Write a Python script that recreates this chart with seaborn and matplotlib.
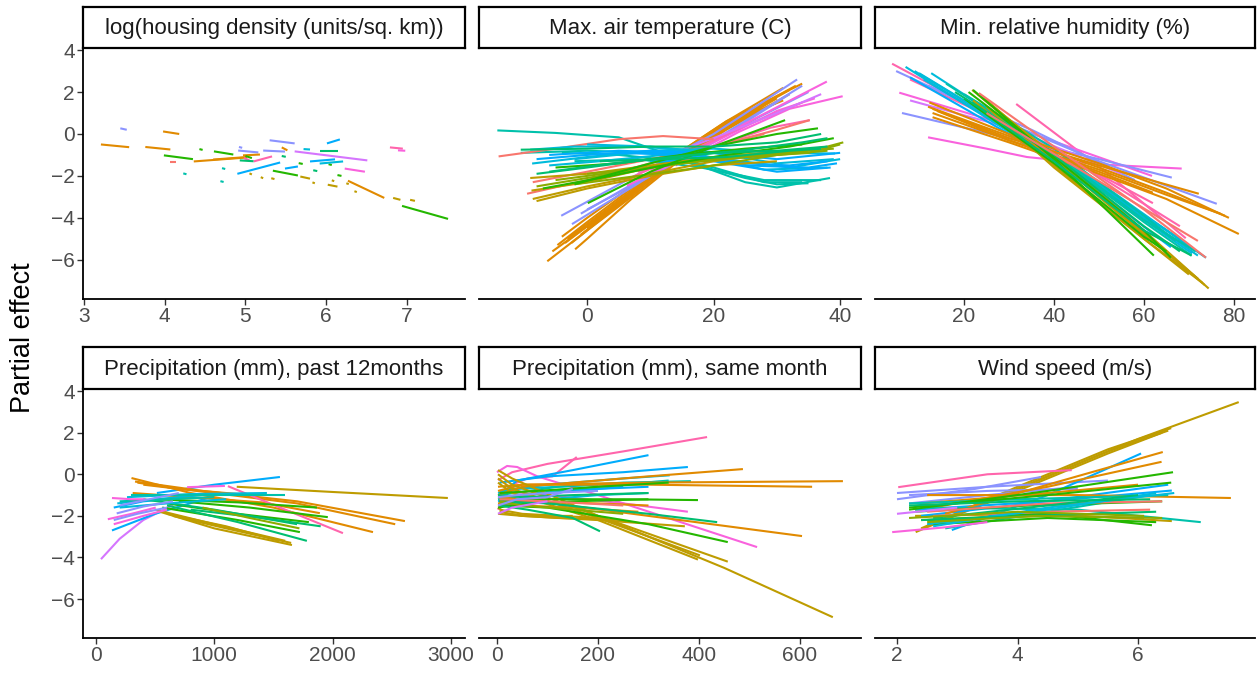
import numpy as np
import pandas as pd
import matplotlib
matplotlib.use("Agg")
import matplotlib.pyplot as plt
import seaborn as sns

# ---------------- data ----------------
panel_titles = ["log(housing density (units/sq. km))", "Max. air temperature (C)",
                "Min. relative humidity (%)", "Precipitation (mm), past 12months",
                "Precipitation (mm), same month", "Wind speed (m/s)"]

group_colors = ["#F8766D", "#E18A00", "#BE9C00", "#8CAB00", "#24B700", "#00BE70", "#00C1AB",
                "#00BBDA", "#00ACFC", "#8B93FF", "#D575FE", "#F962DD", "#FF65AC"]

x_ticks = [[3, 4, 5, 6, 7], [0, 20, 40], [20, 40, 60, 80],
           [0, 1000, 2000, 3000], [0, 200, 400, 600], [2, 4, 6]]
x_limits = [(2.988, 7.72), (-17.1, 43.3), (0.2, 84.7),
            (-110, 3120), (-35.6, 720.8), (1.635, 7.94)]
y_ticks = [4, 2, 0, -2, -4, -6]
y_limits = (-7.87, 4.1)

# (group, x values, y values)
housing_lines = [
    (9, [3.45, 3.53], [0.27, 0.20]), (1, [3.98, 4.18], [0.12, 0.0]),
    (1, [3.21, 3.56], [-0.50, -0.63]), (1, [3.76, 4.07], [-0.62, -0.74]),
    (4, [3.99, 4.35], [-1.02, -1.20]), (0, [4.07, 4.14], [-1.36, -1.36]),
    (4, [4.43, 4.47], [-0.72, -0.76]), (4, [4.61, 4.85], [-0.83, -0.98]),
    (1, [4.36, 5.02], [-1.31, -1.12]), (1, [4.60, 5.02], [-1.22, -1.10]),
    (1, [4.97, 5.18], [-1.02, -0.98]), (6, [4.23, 4.27], [-1.88, -1.92]),
    (6, [4.71, 4.75], [-1.63, -1.67]), (6, [4.69, 4.73], [-2.25, -2.29]),
    (8, [4.90, 5.43], [-1.90, -1.36]), (9, [4.91, 5.16], [-0.79, -0.88]),
    (12, [5.10, 5.33], [-1.31, -1.07]), (9, [5.30, 5.61], [-0.30, -0.45]),
    (9, [5.22, 5.49], [-0.79, -0.84]), (1, [5.45, 5.52], [-0.64, -0.78]),
    (4, [5.34, 5.65], [-1.75, -1.98]), (2, [5.05, 5.08], [-1.88, -1.93]),
    (2, [5.19, 5.22], [-2.06, -2.11]), (2, [5.32, 5.36], [-2.11, -2.15]),
    (2, [5.68, 5.80], [-2.03, -2.13]), (2, [5.83, 5.86], [-2.31, -2.35]),
    (2, [6.02, 6.14], [-2.42, -2.51]), (2, [6.07, 6.10], [-2.21, -2.25]),
    (2, [6.25, 6.28], [-2.35, -2.39]), (2, [6.35, 6.38], [-2.73, -2.77]),
    (2, [6.83, 6.92], [-3.05, -3.14]), (2, [7.04, 7.10], [-3.14, -3.19]),
    (1, [6.27, 6.72], [-2.23, -3.05]), (4, [6.94, 7.51], [-3.43, -4.05]),
    (10, [5.61, 6.51], [-0.83, -1.26]), (8, [6.01, 6.17], [-0.45, -0.26]),
    (5, [5.92, 6.15], [-0.83, -0.83]), (8, [5.80, 6.11], [-1.31, -1.21]),
    (7, [5.92, 6.21], [-1.41, -1.31]), (8, [5.49, 5.65], [-1.65, -1.55]),
    (11, [6.23, 6.48], [-1.65, -1.80]), (12, [6.79, 6.95], [-0.64, -0.70]),
    (11, [6.89, 6.98], [-0.78, -0.80]), (5, [5.84, 5.89], [-1.73, -1.77]),
    (4, [6.14, 6.19], [-1.96, -2.00]), (4, [6.03, 6.07], [-1.44, -1.48]),
    (5, [5.45, 5.50], [-1.05, -1.09]), (4, [5.66, 5.71], [-1.39, -1.43]),
    (5, [4.93, 5.10], [-1.26, -1.30]), (4, [5.00, 5.08], [-1.05, -1.15]),
    (7, [5.72, 5.80], [-0.72, -0.74]), (9, [4.92, 4.96], [-0.62, -0.66]),
    (12, [4.98, 5.05], [-1.15, -1.25]),
]

temperature_lines = [
    (1, [-6.3, 0, 7, 14, 22, 32], [-6.07, -4.6, -2.9, -1.2, 0.4, 2.1]),
    (1, [-4.7, 0, 7, 14, 22, 31], [-5.3, -4.2, -2.6, -1.0, 0.6, 2.2]),
    (1, [-3.1, 0, 7, 14, 22, 33], [-5.0, -4.3, -2.7, -1.1, 0.5, 2.3]),
    (1, [-1.9, 0, 7, 14, 22, 30], [-5.5, -5.0, -3.1, -1.4, 0.3, 1.7]),
    (1, [-3.5, 0, 7, 14, 23], [-5.2, -4.4, -2.8, -1.2, 0.7]),
    (1, [-1.0, 7, 14, 22, 31], [-4.8, -2.9, -1.1, 0.5, 1.6]),
    (1, [0, 7, 14, 22, 32], [-4.5, -2.8, -1.3, 0.2, 1.9]),
    (1, [-5.5, 0, 7, 14, 22, 30], [-5.6, -4.4, -2.8, -1.2, 0.3, 1.5]),
    (1, [-2.5, 0, 7, 14, 21, 28], [-5.2, -4.6, -3.0, -1.3, 0.2, 1.2]),
    (1, [-4, 0, 7, 14, 22, 34], [-4.9, -4.0, -2.5, -1.0, 0.6, 2.4]),
    (9, [-4.1, 10, 20, 33.2], [-3.9, -1.6, 0.0, 2.6]),
    (9, [-2.4, 10, 20, 34], [-4.3, -2.0, -0.3, 2.3]),
    (9, [0, 10, 20, 32], [-3.6, -2.0, -0.4, 1.9]),
    (9, [-1, 10, 20, 35], [-3.8, -1.9, -0.3, 2.0]),
    (11, [6.3, 15, 25, 37.9], [-2.47, -1.2, 0.5, 2.5]),
    (11, [14, 24, 32, 40.4], [-1.5, 0.1, 1.2, 1.8]),
    (11, [10, 20, 30, 36], [-1.7, -0.4, 1.1, 1.7]),
    (12, [8, 20, 29, 35.2], [-1.8, -0.6, 0.3, 0.66]),
    (12, [6, 15, 25, 34], [-2.2, -1.0, 0.4, 1.5]),
    (10, [10, 20, 30, 37], [-1.3, -0.2, 1.0, 1.9]),
    (6, [-14.2, -5, 5, 15, 25, 30, 38.4], [0.17, 0.05, -0.16, -1.2, -2.3, -2.55, -2.1]),
    (6, [-4, 5, 15, 25, 30, 35], [-0.9, -1.0, -1.3, -2.1, -2.4, -2.35]),
    (6, [-10.5, 0, 10, 20, 28, 34], [-0.9, -0.8, -0.9, -1.6, -2.3, -2.3]),
    (6, [-2, 8, 18, 28, 37], [-1.3, -1.2, -1.6, -2.2, -2.2]),
    (0, [-14, -5, 5, 12, 20], [-1.07, -0.7, -0.25, -0.1, -0.25]),
    (0, [-9.5, 0, 10, 20, 30, 35.2], [-2.85, -2.2, -1.4, -0.6, 0.2, 0.66]),
    (0, [-8.6, 0, 10, 20, 28], [-2.3, -1.8, -1.2, -0.6, 0.0]),
    (7, [-8.7, 0, 10, 20, 30, 39.2], [-1.41, -1.1, -0.8, -0.7, -0.9, -0.93]),
    (8, [-6, 5, 15, 25, 32, 38], [-1.0, -0.8, -0.9, -1.4, -1.5, -1.3]),
    (7, [0, 10, 20, 30, 39], [-0.5, -0.6, -0.9, -1.4, -1.2]),
    (8, [5, 15, 25, 35, 39.5], [-0.9, -1.0, -1.5, -1.6, -1.4]),
    (7, [-2, 8, 18, 28, 38], [-1.2, -0.9, -1.0, -1.7, -1.6]),
    (8, [10, 20, 30, 38.5], [-1.3, -1.3, -1.8, -1.6]),
    (7, [-9, -2, 8, 18, 26], [-0.75, -0.6, -0.6, -0.8, -1.1]),
    (8, [-8, 0, 10, 20, 30, 40], [-1.2, -1.0, -0.8, -0.9, -1.2, -0.9]),
    (7, [-6, 2, 12, 22, 32, 40], [-1.5, -1.3, -1.0, -1.2, -1.6, -1.2]),
    (2, [-9, 0, 10, 20, 30], [-2.1, -1.9, -1.5, -1.1, -1.0]),
    (2, [-8.6, 0, 10, 20, 30, 35], [-3.1, -2.5, -1.9, -1.3, -0.9, -0.8]),
    (2, [-8.8, 0, 10, 20, 32], [-2.7, -2.3, -1.6, -1.1, -0.8]),
    (2, [-8, 0, 10, 20, 30], [-3.2, -2.6, -2.0, -1.5, -1.3]),
    (3, [-5, 5, 15, 25, 35, 40], [-2.2, -1.8, -1.4, -1.1, -0.9, -0.5]),
    (3, [-2, 8, 18, 28, 38, 40.5], [-2.4, -2.0, -1.6, -1.1, -0.6, -0.4]),
    (3, [0, 10, 20, 30, 38], [-1.9, -1.6, -1.2, -1.0, -0.8]),
    (3, [-8, 0, 10, 20, 30, 39], [-2.5, -2.1, -1.6, -1.2, -0.9, -0.7]),
    (4, [0.1, 10, 20, 31.3], [-3.3, -1.8, -0.6, 0.66]),
    (4, [-2, 10, 20, 30, 36.5], [-2.4, -1.4, -0.6, 0.0, 0.27]),
    (4, [-5, 5, 15, 25, 34], [-1.6, -1.4, -1.0, -0.7, -0.5]),
    (4, [-7, 2, 12, 22, 32, 39], [-2.6, -2.1, -1.5, -1.0, -0.6, -0.2]),
    (5, [-10.5, 0, 10, 20, 30, 37], [-0.75, -0.7, -0.6, -0.6, -0.4, 0.0]),
    (5, [-6, 4, 14, 24, 34, 38], [-1.8, -1.4, -1.1, -0.8, -0.4, -0.2]),
    (5, [2, 12, 22, 32, 37], [-1.3, -1.2, -1.1, -0.8, -0.7]),
    (5, [-8, 0, 10, 20, 30, 38], [-1.9, -1.6, -1.2, -0.9, -0.8, -0.6]),
]

humidity_lines = [
    (12, [4.0, 35, 62], [3.35, -0.2, -3.3]),
    (12, [31.6, 50, 69.3], [1.43, -1.55, -4.97]),
    (12, [8, 30, 50, 68], [2.6, 0.4, -2.0, -4.4]),
    (11, [5.6, 30, 61.8], [1.97, 0.4, -2.0]),
    (11, [12, 25, 34, 50, 68.4], [-0.16, -0.7, -1.1, -1.45, -1.65]),
    (9, [4.9, 30, 50, 76.2], [3.0, 0.5, -1.3, -3.33]),
    (9, [6.2, 30, 50, 66.2], [1.0, -0.2, -1.2, -2.08]),
    (10, [8, 30, 55], [1.6, 0.3, -1.9]),
    (9, [12, 35, 58], [2.3, 0.2, -2.2]),
    (7, [7, 30, 50, 70.7], [3.2, 0.1, -2.6, -5.7]),
    (7, [10, 30, 50, 72], [2.9, 0.3, -2.5, -5.8]),
    (7, [12.7, 30, 50, 73.8], [2.9, 0.5, -2.4, -5.9]),
    (7, [11, 30, 50, 68], [2.6, 0.2, -2.5, -5.0]),
    (7, [9, 30, 50, 71], [3.0, 0.3, -2.3, -5.5]),
    (8, [8, 30, 50, 66], [2.7, 0.0, -2.8, -5.4]),
    (6, [21.8, 40, 60, 70.6], [1.5, -1.0, -4.2, -5.8]),
    (6, [20, 40, 60, 67], [1.9, -0.7, -3.9, -5.1]),
    (6, [16, 40, 60, 71.5], [2.4, -0.9, -4.1, -5.6]),
    (1, [12.3, 30, 50, 65, 78.9], [1.5, 0.0, -1.4, -2.6, -4.0]),
    (1, [13, 30, 50, 65, 81.1], [0.8, -0.4, -1.9, -3.1, -4.77]),
    (1, [13, 30, 50, 72.2], [1.2, -0.2, -1.5, -2.85]),
    (1, [12, 30, 50, 65, 78], [1.3, -0.1, -1.6, -2.8, -3.9]),
    (1, [14, 30, 50, 62], [1.1, -0.3, -1.8, -2.8]),
    (1, [13, 30, 50, 65, 77], [1.0, -0.3, -1.7, -2.9, -3.8]),
    (2, [21.8, 40, 60, 74.4], [2.1, -1.0, -4.6, -7.37]),
    (2, [24, 40, 60, 72], [1.8, -1.2, -4.8, -6.9]),
    (2, [22, 40, 60, 73], [1.6, -1.5, -5.0, -7.1]),
    (2, [25, 40, 60, 70], [1.3, -1.6, -5.0, -6.7]),
    (2, [23, 40, 60, 73.5], [1.9, -1.2, -4.7, -7.2]),
    (4, [22, 40, 62.2], [2.1, -1.2, -5.8]),
    (4, [20, 40, 60, 65], [1.7, -1.4, -4.9, -5.6]),
    (4, [21, 40, 60, 66], [2.0, -1.1, -4.6, -5.9]),
    (5, [21.8, 40, 60, 70.6], [1.5, -1.3, -4.6, -5.8]),
    (5, [18, 40, 60, 68], [2.0, -1.0, -4.4, -5.6]),
    (0, [23.3, 40, 60, 73.8], [1.95, -0.6, -3.6, -5.9]),
    (0, [25, 45, 65, 72], [1.0, -1.6, -4.2, -5.1]),
]

precip_year_lines = [
    (10, [42, 200, 400, 650], [-4.08, -3.1, -2.2, -1.48]),
    (8, [515, 1000, 1555], [-0.9, -0.5, -0.13]),
    (1, [300, 800, 1500, 2342], [-0.18, -0.9, -1.6, -2.78]),
    (1, [330, 900, 1700, 2612], [-0.35, -0.8, -1.3, -2.25]),
    (1, [400, 1000, 1700, 2530], [-0.5, -0.9, -1.4, -2.4]),
    (2, [1190, 2000, 2975], [-0.6, -0.85, -1.14]),
    (1, [310, 800, 1400, 1893], [-0.9, -1.1, -1.35, -1.87]),
    (1, [350, 700, 1200], [-0.4, -0.7, -0.95]),
    (12, [1115, 1600, 2088], [-0.57, -1.7, -2.83]),
    (2, [540, 1000, 1657], [-1.8, -2.6, -3.4]),
    (2, [500, 1000, 1600], [-1.7, -2.4, -3.2]),
    (2, [600, 1100, 1550], [-1.9, -2.5, -3.2]),
    (2, [650, 1100, 1650], [-2.0, -2.6, -3.3]),
    (4, [560, 1200, 1724], [-1.6, -2.2, -2.78]),
    (4, [700, 1300, 1960], [-1.3, -1.6, -2.06]),
    (4, [500, 1200, 1868], [-1.2, -1.35, -1.6]),
    (4, [600, 1200, 1800], [-1.4, -1.9, -2.3]),
    (5, [600, 1200, 1783], [-1.5, -2.3, -3.2]),
    (5, [400, 1000, 1700], [-1.2, -1.7, -2.4]),
    (5, [800, 1400, 1900], [-1.7, -2.1, -2.5]),
    (3, [900, 1300, 1720], [-1.6, -2.1, -2.6]),
    (7, [262, 800, 1445], [-1.1, -0.95, -0.9]),
    (7, [180, 500, 900], [-1.4, -1.2, -1.0]),
    (6, [200, 600, 1000], [-1.3, -1.2, -1.1]),
    (6, [300, 900, 1600], [-1.0, -1.0, -1.0]),
    (11, [135, 300, 420], [-1.14, -1.2, -1.2]),
    (11, [100, 300, 505], [-2.16, -1.9, -1.6]),
    (11, [150, 400, 600], [-2.4, -2.0, -1.7]),
    (11, [770, 1090], [-0.62, -0.56]),
    (9, [175, 400, 650], [-1.88, -1.55, -1.3]),
    (9, [150, 350, 600], [-2.2, -1.9, -1.6]),
    (9, [200, 450, 700], [-1.5, -1.2, -0.9]),
    (8, [135, 500, 940], [-2.7, -1.9, -1.15]),
    (8, [150, 400, 800], [-1.6, -1.3, -1.1]),
    (7, [200, 600, 1100], [-1.6, -1.4, -1.2]),
]

precip_month_lines = [
    (12, [2, 30, 100, 250, 416], [-0.28, 0.1, 0.5, 1.1, 1.79]),
    (12, [2, 30, 60, 110, 158], [-1.7, -0.5, -0.2, -0.1, 0.83]),
    (11, [0, 20, 40, 80, 200, 515], [0.1, 0.4, 0.35, -0.1, -1.0, -3.5]),
    (11, [5, 100, 250, 378], [-0.8, -1.0, -1.4, -1.8]),
    (8, [10, 40, 150, 300], [-0.9, -0.3, 0.2, 0.92]),
    (8, [5, 100, 250, 378], [-0.4, -0.1, 0.1, 0.35]),
    (8, [5, 100, 200, 300], [-1.1, -0.9, -0.7, -0.6]),
    (8, [2, 50, 150, 250], [-1.3, -1.0, -0.8, -0.6]),
    (7, [5, 100, 250, 342], [-0.8, -0.5, -0.2, -0.05]),
    (7, [5, 100, 200, 300], [-1.5, -1.2, -1.0, -0.9]),
    (7, [2, 40, 120, 200], [-0.9, -0.7, -0.6, -0.5]),
    (6, [5, 120, 250, 384], [-1.0, -0.6, -0.4, -0.33]),
    (6, [2, 80, 200, 340], [-1.2, -0.9, -0.6, -0.3]),
    (1, [2, 50, 300, 685], [-0.8, -0.5, -0.4, -0.33]),
    (1, [2, 50, 300, 624], [-0.6, -0.5, -0.5, -0.6]),
    (1, [2, 50, 300, 487], [-1.0, -0.6, -0.1, 0.25]),
    (2, [2, 30, 200, 450, 665], [0.2, -0.2, -2.0, -4.5, -6.87]),
    (2, [2, 30, 200, 457], [0.0, -0.5, -2.0, -4.2]),
    (2, [2, 30, 200, 402], [-0.2, -0.7, -2.1, -3.9]),
    (2, [2, 30, 200, 398], [-0.4, -0.9, -2.2, -4.1]),
    (1, [2, 50, 300, 604], [-1.1, -1.2, -2.0, -2.97]),
    (1, [2, 50, 200, 300], [-1.4, -1.3, -1.4, -1.5]),
    (1, [2, 50, 150, 280], [-1.5, -1.5, -1.6, -1.8]),
    (4, [5, 100, 300, 457], [-1.5, -1.6, -2.4, -3.26]),
    (4, [5, 100, 250, 398], [-1.3, -1.2, -1.2, -1.24]),
    (4, [2, 60, 150, 300], [-1.6, -1.4, -1.3, -1.2]),
    (5, [5, 100, 300, 436], [-1.3, -1.4, -1.9, -2.3]),
    (5, [5, 60, 150, 204], [-1.5, -1.7, -2.1, -2.74]),
    (5, [2, 50, 150, 300], [-1.0, -1.1, -1.0, -0.9]),
    (2, [5, 50, 200, 372], [-1.8, -2.0, -2.2, -2.5]),
    (2, [5, 50, 200], [-1.7, -1.9, -2.1]),
    (2, [2, 50, 120, 250], [-1.9, -2.0, -2.1, -2.2]),
    (2, [2, 20, 60, 150], [-1.6, -1.9, -2.0, -2.0]),
    (3, [5, 50, 150, 250], [-1.3, -1.5, -1.7, -1.9]),
    (4, [5, 80, 200, 340], [-0.9, -0.8, -0.6, -0.4]),
    (0, [5, 100, 250], [-1.2, -1.3, -1.5]),
    (9, [2, 40, 100, 150], [-1.5, -1.2, -1.1, -0.7]),
    (9, [2, 40, 100, 200], [-1.1, -1.0, -0.9, -0.8]),
    (10, [2, 30, 100], [-1.9, -1.6, -1.3]),
]

wind_lines = [
    (2, [2.31, 4, 6, 7.67], [-2.78, -0.7, 1.7, 3.47]),
    (2, [2.4, 4, 5.5, 6.55], [-2.6, -0.6, 1.2, 2.22]),
    (2, [2.5, 4, 5.5, 6.5], [-2.5, -0.7, 1.1, 2.1]),
    (2, [2.7, 4, 5.5, 6.4], [-2.3, -0.8, 1.0, 2.0]),
    (12, [2.02, 3.5, 4.9], [-0.62, 0.0, 0.2]),
    (9, [2.0, 3.3, 4.39], [-1.2, -0.7, -0.13]),
    (9, [2.0, 3.5, 5.5], [-0.9, -0.6, -0.3]),
    (9, [2.2, 3.5, 5.0], [-1.4, -1.0, -0.6]),
    (9, [2.2, 3.5, 5.0], [-1.0, -0.8, -0.7]),
    (8, [2.91, 4.5, 6.05], [-2.68, -1.0, 1.0]),
    (8, [2.4, 4.2, 6.5], [-2.0, -1.4, -0.5]),
    (1, [2.8, 4.5, 6.41], [-1.9, -0.5, 1.07]),
    (1, [2.6, 4.5, 6.39], [-1.6, -0.6, 0.6]),
    (1, [2.5, 5, 7.54], [-1.0, -1.0, -1.14]),
    (1, [2.4, 4.5, 6.0], [-1.4, -0.9, -0.5]),
    (6, [2.5, 5, 7.04], [-1.6, -1.7, -2.3]),
    (6, [2.2, 4.0, 6.5], [-1.4, -1.2, -1.0]),
    (4, [2.2, 4.5, 6.58], [-1.7, -0.8, 0.1]),
    (4, [2.2, 4.5, 6.55], [-1.6, -1.0, -0.4]),
    (4, [2.3, 4.2, 6.4], [-1.8, -1.5, -1.3]),
    (2, [2.3, 4.5, 6.56], [-2.0, -1.9, -2.25]),
    (2, [2.4, 4.5, 6.1], [-2.2, -2.0, -2.1]),
    (4, [2.5, 4.5, 6.23], [-2.2, -1.9, -2.45]),
    (4, [2.6, 4.5, 6.3], [-2.4, -2.1, -2.3]),
    (11, [1.92, 2.8, 3.5], [-2.78, -2.55, -2.3]),
    (0, [2.5, 4.5, 6.4], [-1.8, -1.4, -1.3]),
    (0, [2.6, 4.5, 6.2], [-2.0, -1.8, -1.7]),
    (8, [2.3, 4.5, 6.56], [-1.7, -1.3, -0.78]),
    (7, [2.5, 4.5, 6.3], [-2.4, -1.7, -0.9]),
    (7, [2.6, 4.5, 6.6], [-2.5, -1.6, -0.9]),
    (5, [2.2, 4, 6.2], [-1.5, -1.3, -1.2]),
    (5, [2.4, 4.2, 6.3], [-2.2, -2.0, -1.8]),
    (3, [2.2, 4, 6.1], [-2.1, -1.8, -2.0]),
    (3, [2.5, 4.3, 6.4], [-2.3, -2.0, -2.1]),
    (5, [2.6, 4.5, 6.0], [-2.1, -1.5, -1.0]),
    (10, [2.0, 3.0], [-1.9, -1.6]),
    (6, [2.8, 4.5, 6.2], [-2.6, -1.8, -1.0]),
]

panel_lines = [housing_lines, temperature_lines, humidity_lines,
               precip_year_lines, precip_month_lines, wind_lines]

# ---------------- build long table ----------------
rows = []
for p, lines in enumerate(panel_lines):
    for i, (g, xs, ys) in enumerate(lines):
        for xv, yv in zip(xs, ys):
            rows.append({"panel": p, "line": f"{p}_{i}", "group": f"g{g}", "x": xv, "y": yv})
df = pd.DataFrame(rows)
pal = {f"g{i}": c for i, c in enumerate(group_colors)}

# ---------------- figure ----------------
sns.set_theme(style="white")
plt.rcParams['font.family'] = ['Liberation Sans', 'DejaVu Sans']
plt.rcParams['lines.solid_capstyle'] = 'butt'

W, H = 1257, 674
fig = plt.figure(figsize=(W / 100, H / 100), dpi=100)
fig.patch.set_facecolor("white")

def add_ax(l, t, r, b):
    return fig.add_axes([l / W, 1 - b / H, (r - l) / W, (b - t) / H])

col_edges = [(83, 465), (479, 861), (875, 1255)]
row_edges = [(7, 48, 299), (347, 389, 638)]  # strip top, panel top, panel bottom
minus = "\u2212"

for p in range(6):
    r, c = divmod(p, 3)
    l, rr = col_edges[c]
    st, pt, pb = row_edges[r]
    ax = add_ax(l, pt, rr, pb)
    sub = df[df.panel == p]
    sns.lineplot(data=sub, x="x", y="y", hue="group", units="line", estimator=None,
                 sort=False, palette=pal, legend=False, linewidth=1.5, ax=ax)
    ax.set_xlim(*x_limits[p])
    ax.set_ylim(*y_limits)
    ax.set_xticks(x_ticks[p])
    ax.set_xticklabels([str(t) for t in x_ticks[p]])
    ax.set_xlabel("")
    ax.set_ylabel("")
    ax.set_facecolor("white")
    for s in ["top", "right"]:
        ax.spines[s].set_visible(False)
    ax.spines["bottom"].set_color("black")
    ax.spines["bottom"].set_linewidth(1.3)
    ax.tick_params(axis="x", length=4, width=1, color="#333333", labelcolor="#4D4D4D",
                   labelsize=15, pad=2, bottom=True)
    if c == 0:
        ax.spines["left"].set_color("black")
        ax.spines["left"].set_linewidth(1.3)
        ax.set_yticks(y_ticks)
        ax.set_yticklabels([str(t).replace("-", minus) for t in y_ticks])
        ax.tick_params(axis="y", length=4, width=1, color="#333333", labelcolor="#4D4D4D",
                       labelsize=15, pad=2, left=True)
    else:
        ax.spines["left"].set_visible(False)
        ax.set_yticks([])
    ax.grid(False)

    # strip
    sax = add_ax(l, st, rr, pt)
    sax.set_xticks([])
    sax.set_yticks([])
    sax.set_facecolor("white")
    for s in sax.spines.values():
        s.set_visible(True)
        s.set_color("black")
        s.set_linewidth(1.6)
    sax.text(0.5, 0.47, panel_titles[p], transform=sax.transAxes, ha="center", va="center",
             fontsize=16, color="#1A1A1A")

fig.text(23 / W, 1 - 338 / H, "Partial effect", rotation=90, ha="center", va="center",
         fontsize=19.5, color="black")

fig.savefig("out.png", dpi=100, facecolor="white")
